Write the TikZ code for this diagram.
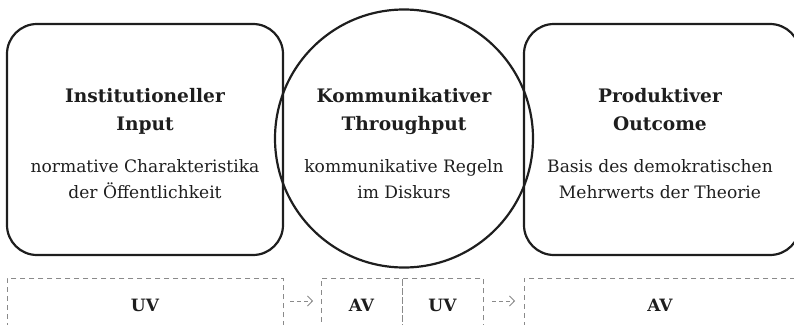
\documentclass[tikz,border=0pt]{standalone}
\usepackage{fontspec}
\setmainfont{DejaVu Serif}
\usetikzlibrary{arrows.meta}
\definecolor{ink}{HTML}{1E1E1E}
\definecolor{dashgray}{HTML}{8A8A8A}
\tikzset{
  stagebox/.style={draw=ink, line width=2.2pt, rounded corners=30pt, minimum width=276pt, minimum height=231pt},
  ringbox/.style={draw=ink, line width=2.2pt, circle, minimum size=258pt, inner sep=0pt},
  varbox/.style={draw=dashgray, line width=0.8pt, dash pattern=on 5pt off 4pt, inner sep=0pt},
  varlabel/.style={font=\fontsize{17}{18}\selectfont\bfseries, text=ink, anchor=base},
  flow/.style={draw=dashgray, line width=0.8pt, dash pattern=on 4pt off 3pt, -{Straight Barb[length=5pt,width=10pt]}},
  ttl/.style={font=\fontsize{18.6}{28}\selectfont\bfseries, text=ink, align=center, anchor=base},
  sub/.style={font=\fontsize{17.1}{26}\selectfont, text=ink, align=center, anchor=base},
}
\begin{document}
\begin{tikzpicture}[x=1pt,y=-1pt]
\useasboundingbox (0,0) rectangle (794,324);
\clip (0,0) rectangle (794,324);
\node[stagebox] (inp) at (145,139.5) {};
\node[stagebox] (out) at (662,139.5) {};
\node[ringbox] (thr) at (404,138.5) {};
\node[ttl] (inpT) at (145,130) {Institutioneller\\Input};
\node[sub] (inpS) at (145,198) {normative Charakteristika\\der Öffentlichkeit};
\node[ttl] (thrT) at (404,130) {Kommunikativer\\Throughput};
\node[sub] (thrS) at (404,198) {kommunikative Regeln\\im Diskurs};
\node[ttl] (outT) at (660,130) {Produktiver\\Outcome};
\node[sub] (outS) at (660,198) {Basis des demokratischen\\Mehrwerts der Theorie};
% dashed boxes
\node[varbox, minimum width=276pt, minimum height=60pt, anchor=north west] (uv1) at (7,278) {};
\node[varbox, minimum width=81pt, minimum height=60pt, anchor=north west] (av1) at (321,278) {};
\node[varbox, minimum width=81pt, minimum height=60pt, anchor=north west] (uv2) at (402,278) {};
\node[varbox, minimum width=290pt, minimum height=60pt, anchor=north west] (av2) at (524,278) {};
\node[varlabel] (l1) at (145,311.5) {UV};
\node[varlabel] (l2) at (361.5,311.5) {AV};
\node[varlabel] (l3) at (442.5,311.5) {UV};
\node[varlabel] (l4) at (660,311.5) {AV};
\coordinate (a1s) at (290,301);
\coordinate (a1e) at (313,301);
\coordinate (a2s) at (492,301);
\coordinate (a2e) at (515,301);
\draw[flow] (a1s) -- (a1e);
\draw[flow] (a2s) -- (a2e);
\end{tikzpicture}
\end{document}
